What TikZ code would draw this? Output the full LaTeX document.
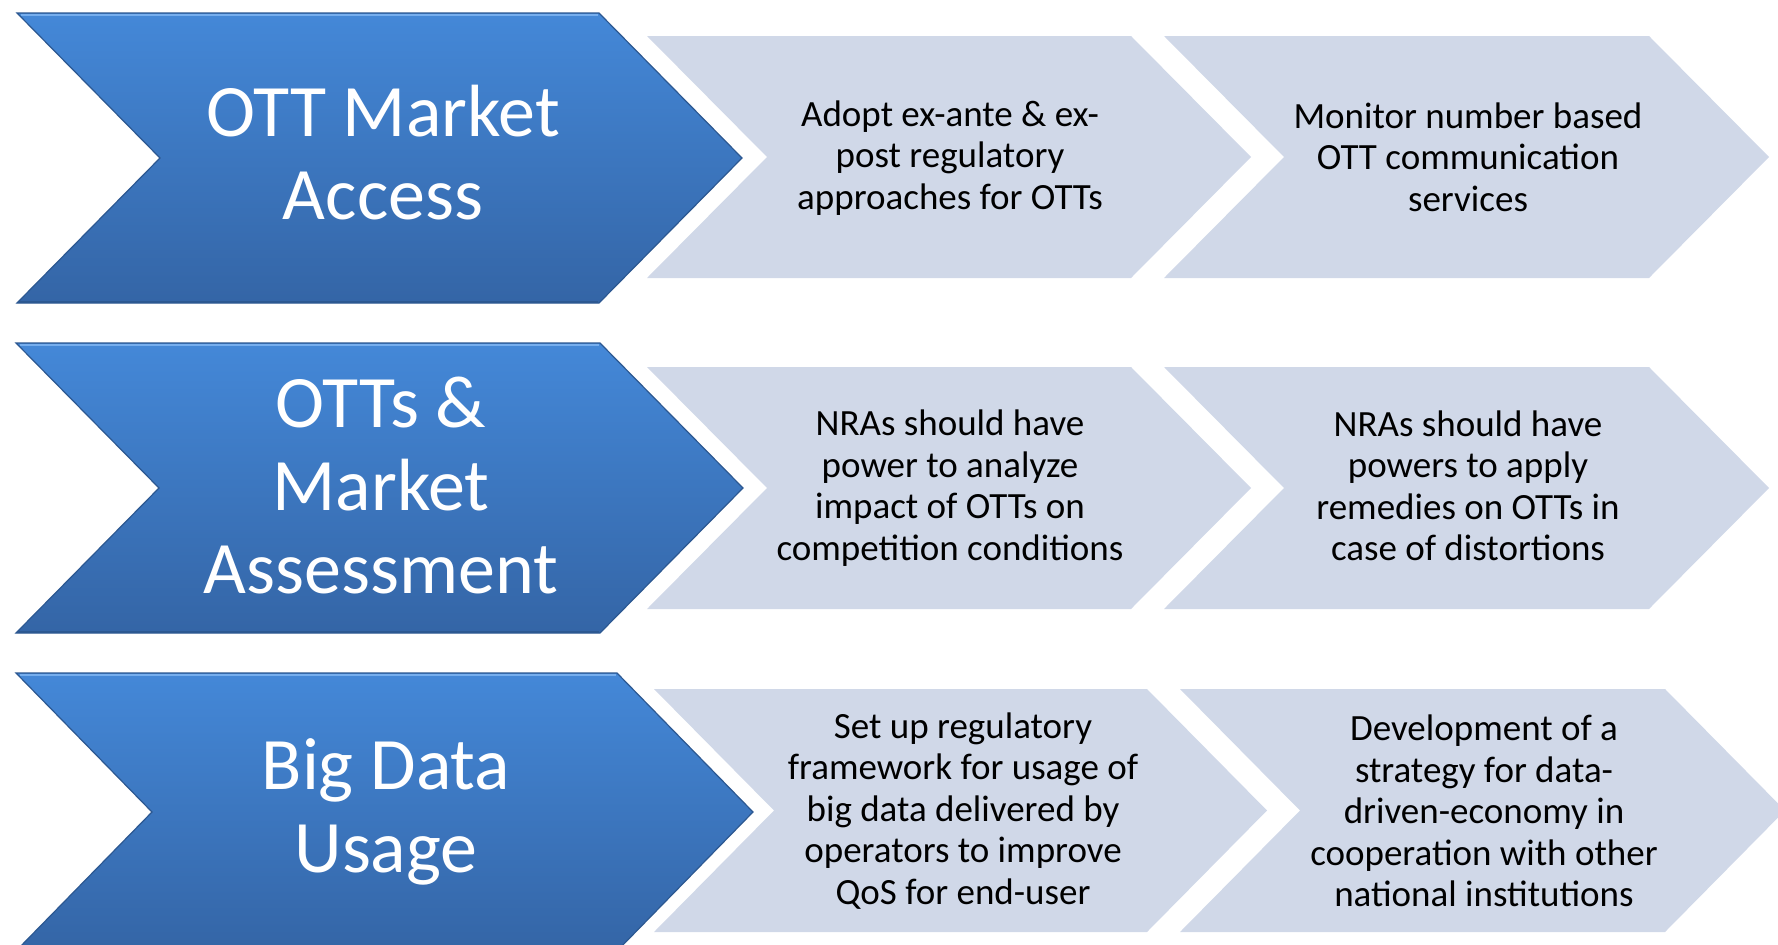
\documentclass[tikz,border=0pt]{standalone}
\usepackage{fontspec}
\setmainfont{Carlito}
\definecolor{lightfill}{RGB}{208,216,232}
\definecolor{bluetop}{RGB}{68,136,216}
\definecolor{bluebot}{RGB}{52,101,166}
\definecolor{blueedge}{RGB}{44,88,145}
\definecolor{bluehi}{RGB}{118,174,238}
\tikzset{
  lightchev/.style={fill=lightfill, draw=none},
  bluechev/.style={top color=bluetop, bottom color=bluebot, draw=blueedge, line width=1.2pt, line join=miter},
  headtext/.style={text=white, align=center, font=\fontsize{74}{83}\selectfont, inner sep=0pt},
  bodytext/.style={text=black, align=center, font=\fontsize{37}{41.5}\selectfont, inner sep=0pt},
}
\newcommand{\LightChev}[5]{%
  \fill[lightchev] (#1,#3) -- (#2,#3) -- ({#2+#5},{(#3+#4)/2}) -- (#2,#4) -- (#1,#4) -- ({#1+#5},{(#3+#4)/2}) -- cycle;}
\newcommand{\BlueChev}[5]{%
  \path[bluechev] (#1,#3) -- (#2,#3) -- ({#2+#5},{(#3+#4)/2}) -- (#2,#4) -- (#1,#4) -- ({#1+#5},{(#3+#4)/2}) -- cycle;
  \draw[bluehi, line width=2pt] ({#1+4},{#3+2}) -- ({#2-1},{#3+2});
  \draw[blueedge, line width=2pt] ({#1+2},{#4-1.5}) -- ({#2-1},{#4-1.5});}
\begin{document}
\begin{tikzpicture}[x=1pt,y=-1pt]
\useasboundingbox (0,0) rectangle (1778,945);
\clip (0,0) rectangle (1778,945);
% light chevrons
\LightChev{647}{1131}{36}{278}{120}
\LightChev{1164}{1649}{36}{278}{120}
\LightChev{647}{1131}{367}{609}{120}
\LightChev{1164}{1649}{367}{609}{120}
\LightChev{654}{1147}{689}{932}{120}
\LightChev{1180}{1665}{689}{932}{120}
% blue chevrons
\BlueChev{17}{599}{13}{303}{143}
\BlueChev{16}{600}{343}{633}{143}
\BlueChev{16}{617}{673}{951}{136}
% heading texts
\node[headtext] (h1) at (383,153) {OTT Market\\Access};
\node[headtext] (h2) at (381,485) {OTTs \&\\Market\\Assessment};
\node[headtext] (h3) at (386,812) {Big Data\\Usage};
% body texts
\node[bodytext] (a1) at (950,158) {Adopt ex-ante \& ex-\\post regulatory\\approaches for OTTs};
\node[bodytext] (a2) at (1468,157) {Monitor number based\\OTT communication\\services};
\node[bodytext] (b1) at (950,488) {NRAs should have\\power to analyze\\impact of OTTs on\\competition conditions};
\node[bodytext] (b2) at (1468,486) {NRAs should have\\powers to apply\\remedies on OTTs in\\case of distortions};
\node[bodytext] (c1) at (963,811) {Set up regulatory\\framework for usage of\\big data delivered by\\operators to improve\\QoS for end-user};
\node[bodytext] (c2) at (1484,811) {Development of a\\strategy for data-\\driven-economy in\\cooperation with other\\national institutions};
\end{tikzpicture}
\end{document}
